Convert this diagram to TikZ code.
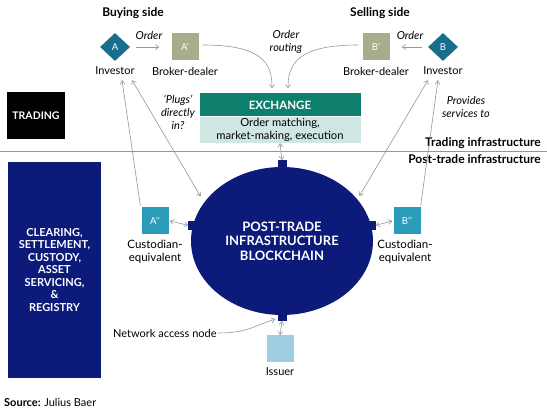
\documentclass[tikz,border=0pt]{standalone}
\usepackage{fontspec}
\setmainfont{Lato}
\usetikzlibrary{positioning,shapes.geometric,arrows.meta}
\definecolor{navy}{RGB}{12,26,122}
\definecolor{diamcol}{RGB}{24,110,140}
\definecolor{brokcol}{RGB}{167,172,138}
\definecolor{custcol}{RGB}{42,156,186}
\definecolor{isscol}{RGB}{158,204,224}
\definecolor{exgreen}{RGB}{14,127,108}
\definecolor{exlight}{RGB}{206,231,226}
\definecolor{linegray}{RGB}{150,150,150}

\begin{document}
\begin{tikzpicture}[x=1pt,y=-1pt,
  every node/.style={font=\fontsize{11}{12}\selectfont,inner sep=1pt},
  head/.style={font=\fontsize{12}{14}\selectfont\bfseries},
  note/.style={font=\fontsize{11}{13}\selectfont\itshape,align=center},
  lbl/.style={align=center,font=\fontsize{11.5}{13.5}\selectfont},
  tag/.style={minimum size=27pt,inner sep=0pt,text=white,font=\fontsize{9.5}{11}\selectfont},
  dia/.style={diamond,fill=diamcol,minimum width=30pt,minimum height=28pt,inner sep=0pt,text=white,font=\fontsize{9.5}{11}\selectfont},
  tabbox/.style={fill=navy,minimum size=9pt,inner sep=0pt},
  conn/.style={draw=linegray,line width=0.6pt,-{Straight Barb[length=3.5pt,width=5pt]}},
  dconn/.style={draw=linegray,line width=0.6pt,{Straight Barb[length=3.5pt,width=5pt]}-{Straight Barb[length=3.5pt,width=5pt]}}]
\useasboundingbox (0,0) rectangle (547,411);

% top row
\node[head] (buy) at (133,13) {Buying side};
\node[head] (sell) at (380,13) {Selling side};
\node[dia] (A) at (115,47) {A};
\node (invA) at (115,71) {Investor};
\node[tag,fill=brokcol] (Ap) at (185,47) {A’};
\node (brA) at (185,71) {Broker-dealer};
\node[tag,fill=brokcol] (Bp) at (376,47) {B’};
\node (brB) at (376,71) {Broker-dealer};
\node[dia] (B) at (443,47) {B};
\node (invB) at (443,71) {Investor};
\node[note] (ordA) at (149,35) {Order};
\node[note] (ordB) at (410,35) {Order};
\node[note] (route) at (286,42) {Order\\routing};

% trading layer
\node[fill=black,text=white,minimum width=58pt,minimum height=47pt,font=\fontsize{10.5}{12}\selectfont\bfseries] (trade) at (36,116) {TRADING};
\node[fill=exgreen,text=white,minimum width=161pt,minimum height=23pt,inner sep=0pt,font=\fontsize{11.5}{13}\selectfont\bfseries] (exch) at (280,105) {EXCHANGE};
\node[fill=exlight,below=0pt of exch,minimum width=161pt,minimum height=26pt,inner sep=0pt,lbl,font=\fontsize{11.2}{12.5}\selectfont] (match) {Order matching,\\market-making, execution};
\node[note] (plugs) at (178,112) {‘Plugs’\\directly\\in?};
\node[note] (prov) at (466,107) {Provides\\services to};

\draw[linegray,line width=0.8pt] (0,151) -- (547,151);
\node[head,anchor=east] (tinf) at (542,143) {Trading infrastructure};
\node[head,anchor=east] (pinf) at (542,159) {Post-trade infrastructure};

% post-trade layer
\node[fill=navy,text=white,minimum width=93pt,minimum height=216pt,align=center,
  font=\fontsize{11}{12.5}\selectfont\bfseries] (clear) at (54.5,270)
  {CLEARING,\\SETTLEMENT,\\CUSTODY,\\ASSET\\SERVICING,\\\&\\REGISTRY};
\node[ellipse,fill=navy,text=white,minimum width=182pt,minimum height=148pt,align=center,
  font=\fontsize{13}{14.5}\selectfont\bfseries] (chain) at (282,241)
  {POST-TRADE\\INFRASTRUCTURE\\BLOCKCHAIN};
\node[tabbox] (ttop) at ([yshift=2pt]chain.north) {};
\node[tabbox] (ltab) at (chain.170) {};
\node[tabbox] (rtab) at (chain.10) {};
\node[tabbox] (btab) at ([yshift=-1pt]chain.south) {};

\node[tag,fill=custcol] (App) at (155,221) {A’’};
\node[lbl] (cusA) at (155,252) {Custodian-\\equivalent};
\node[tag,fill=custcol] (Bpp) at (407,221) {B’’};
\node[lbl] (cusB) at (405,252) {Custodian-\\equivalent};
\node[tag,fill=isscol] (iss) at (280,349) {};
\node (issl) at (280,372) {Issuer};
\node[anchor=west] (nan) at (112,333) {Network access node};

\node[anchor=west] (src) at (3,402) {\textbf{Source:} Julius Baer};

% connectors
\draw[conn] ([xshift=6pt]A.east) -- ([xshift=-12pt]Ap.west);
\draw[conn] ([xshift=-6pt]B.west) -- ([xshift=12pt]Bp.east);
\draw[conn] ([xshift=4pt,yshift=2pt]Ap.east) .. controls +(60,0) and +(0,-25) .. ([xshift=-8pt,yshift=5pt]exch.north);
\draw[conn] ([xshift=-4pt,yshift=2pt]Bp.west) .. controls +(-60,0) and +(0,-25) .. ([xshift=8pt,yshift=5pt]exch.north);
\draw[conn] ([xshift=-1pt,yshift=2pt]App.north west) -- ([xshift=7pt,yshift=-4pt]invA.south);
\draw[dconn] ([xshift=17pt,yshift=-4pt]invA.south) -- ([xshift=-5pt,yshift=4pt]chain.152);
\draw[conn] ([yshift=2pt]Bpp.north east) -- ([xshift=-5pt,yshift=-4pt]invB.south);
\draw[dconn] ([xshift=-15pt,yshift=-4pt]invB.south) -- ([xshift=3pt,yshift=2pt]chain.30);
\draw[dconn] (match.south) -- (ttop.north);
\draw[dconn] ([xshift=1pt]App.east) -- (ltab.west);
\draw[dconn] (rtab.east) -- ([xshift=-1pt]Bpp.west);
\draw[dconn] (btab.south) -- (iss.north);
\draw[conn] (nan.east) .. controls +(30,0) and +(-20,6) .. ([xshift=-2pt,yshift=-3pt]btab.west);
\end{tikzpicture}
\end{document}
